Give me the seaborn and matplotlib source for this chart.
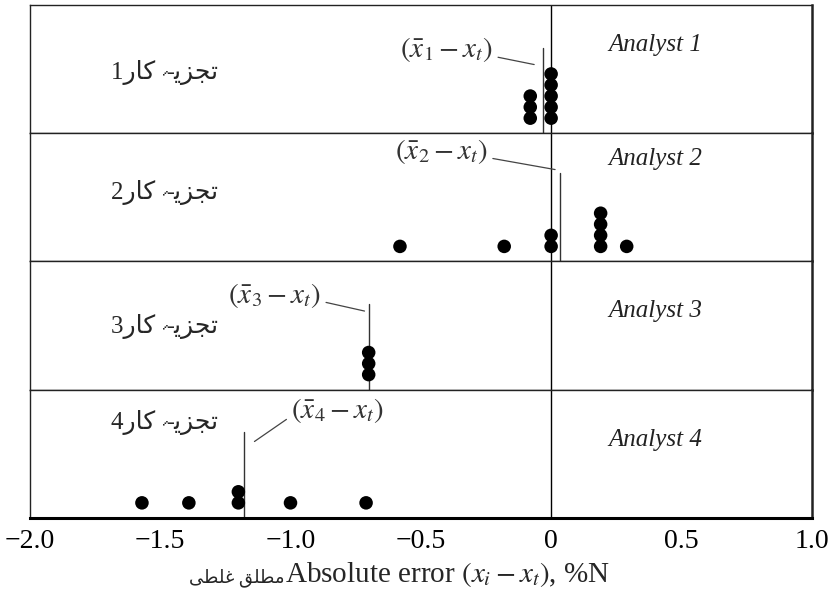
import re
import numpy as np
import pandas as pd
import matplotlib
matplotlib.use("Agg")
import matplotlib.pyplot as plt
from matplotlib import font_manager, ft2font
import seaborn as sns

# --- Data ---
analyst_names = ["Analyst 1", "Analyst 2", "Analyst 3", "Analyst 4"]
urdu_labels   = ["تجزیہ کار1", "تجزیہ کار2", "تجزیہ کار3", "تجزیہ کار4"]
mean_labels   = [r"$(\bar{x}_1 - x_t)$", r"$(\bar{x}_2 - x_t)$",
                 r"$(\bar{x}_3 - x_t)$", r"$(\bar{x}_4 - x_t)$"]
errors_1 = [-0.08, -0.08, -0.08, 0.0, 0.0, 0.0, 0.0, 0.0]
errors_2 = [-0.58, -0.18, 0.0, 0.0, 0.19, 0.19, 0.19, 0.19, 0.29]
errors_3 = [-0.70, -0.70, -0.70]
errors_4 = [-1.57, -1.39, -1.20, -1.20, -1.00, -0.71]
xticks      = [-2.0, -1.5, -1.0, -0.5, 0.0, 0.5, 1.0]
xticklabels = ["\u22122.0", "\u22121.5", "\u22121.0", "\u22120.5", "0", "0.5", "1.0"]
urdu_xlabel = "مطلق غلطی"
xlabel      = r"Absolute error $(x_i - x_t)$, %N"


# --- which installed family has a glyph? ---
def family_with(cp):
    for f in font_manager.fontManager.ttflist:
        try:
            if cp in ft2font.FT2Font(f.fname).get_charmap():
                return f.name
        except Exception:
            pass
    return None


# --- Minimal Arabic-script shaping (matplotlib has no bidi/shaping) ---
# forms: isolated, final, initial, medial; None -> letter does not join forward
FORMS = {
    "ت": ("\uFE95", "\uFE96", "\uFE97", "\uFE98"),
    "ج": ("\uFE9D", "\uFE9E", "\uFE9F", "\uFEA0"),
    "ز": ("\uFEAF", "\uFEB0", None, None),
    "ی": ("\uFBFC", "\uFBFD", "\uFBFE", "\uFBFF"),
    "ہ": ("\uFBA6", "\uFBA7", "\uFBA8", "\uFBA9"),
    "ک": ("\uFB8E", "\uFB8F", "\uFB90", "\uFB91"),
    "ا": ("\uFE8D", "\uFE8E", None, None),
    "ر": ("\uFEAD", "\uFEAE", None, None),
    "م": ("\uFEE1", "\uFEE2", "\uFEE3", "\uFEE4"),
    "ط": ("\uFEC1", "\uFEC2", "\uFEC3", "\uFEC4"),
    "ل": ("\uFEDD", "\uFEDE", "\uFEDF", "\uFEE0"),
    "ق": ("\uFED5", "\uFED6", "\uFED7", "\uFED8"),
    "غ": ("\uFECD", "\uFECE", "\uFECF", "\uFED0"),
}
extra_family = family_with(0xFBA7)
if extra_family is None:
    # no installed font carries heh goal: use the Arabic heh forms instead
    FORMS["ہ"] = ("\uFEE9", "\uFEEA", "\uFEEB", "\uFEEC")


def shape(word):
    out = []
    for i, ch in enumerate(word):
        if ch not in FORMS:
            out.append(ch)
            continue
        prev = word[i - 1] if i > 0 else ""
        nxt = word[i + 1] if i + 1 < len(word) else ""
        j_prev = prev in FORMS and FORMS[prev][2] is not None
        j_next = nxt in FORMS and FORMS[ch][2] is not None
        iso, fin, ini, med = FORMS[ch]
        if j_prev and j_next:
            out.append(med)
        elif j_prev:
            out.append(fin)
        elif j_next:
            out.append(ini)
        else:
            out.append(iso)
    return "".join(out)


def rtl(s):
    runs = re.findall(r"\d+|\D+", s)
    runs = [r if r.isdigit() else shape(r)[::-1] for r in runs]
    return "".join(runs[::-1])


# --- Style ---
sns.set_style("white")
plt.rcParams["font.family"] = ["Liberation Serif", "DejaVu Sans"]
plt.rcParams["mathtext.fontset"] = "stix"
urdu_font = ["Liberation Serif", "DejaVu Sans"] + ([extra_family] if extra_family else [])

series = [errors_1, errors_2, errors_3, errors_4]

# label / leader layout per panel (data coords: x in %N, y in stack units)
label_xy  = [(-0.40, 7.6), (-0.42, 9.9), (-1.06, 8.5), (-0.82, 9.7)]
lead_end  = [(-0.035, 6.2), (-0.017, 8.3), (-0.016, 7.1), (0.04, 6.9)]
lead_rel  = [(1.0, 0.25), (1.0, 0.3), (1.0, 0.3), (0.0, 0.3)]
line_top  = [7.7, 8.0, 7.7, 7.8]
name_y    = [0.69, 0.80, 0.61, 0.61]
urdu_y    = [0.47, 0.54, 0.49, 0.74]

fig, axes = plt.subplots(4, 1, figsize=(8.3, 6.07), dpi=100, sharex=True)
fig.subplots_adjust(left=0.036, right=0.978, top=0.992, bottom=0.147, hspace=0)

for i, ax in enumerate(axes):
    df = pd.DataFrame({"error": series[i]})
    df["level"] = df.groupby("error").cumcount() + 1.35
    mean = df["error"].mean()

    ax.axvline(0, color="black", lw=1.0, zorder=1)
    sns.scatterplot(data=df, x="error", y="level", ax=ax, s=95,
                    color="black", edgecolor="none", zorder=3, legend=False)

    # mean line and leader
    ax.plot([mean, mean], [0, line_top[i]], color="#333333", lw=1.0, zorder=2)
    ax.annotate(mean_labels[i], xy=(mean + lead_end[i][0], lead_end[i][1]),
                xytext=label_xy[i], textcoords="data", ha="center", va="center",
                fontsize=21, color="#333333",
                arrowprops=dict(arrowstyle="-", color="#444444", lw=0.9,
                                shrinkA=1, shrinkB=0, relpos=lead_rel[i]))

    ax.text(0.80, name_y[i], analyst_names[i], transform=ax.transAxes,
            ha="center", va="center", fontsize=18, style="italic",
            color="#222222")
    ax.text(0.172, urdu_y[i], rtl(urdu_labels[i]), transform=ax.transAxes,
            ha="center", va="center", fontsize=18, family=urdu_font)

    ax.set_xlim(-2.0, 1.0)
    ax.set_ylim(0, 11.6)
    ax.set_yticks([])
    ax.set_ylabel("")
    ax.set_xlabel("")
    for side in ["top", "bottom", "left", "right"]:
        ax.spines[side].set_color("#222222")
        ax.spines[side].set_linewidth(1.0)
    ax.spines["right"].set_linewidth(1.8)
    ax.tick_params(axis="x", length=0)

bottom = axes[-1]
bottom.spines["bottom"].set_linewidth(2.2)
bottom.spines["bottom"].set_color("black")
bottom.set_xticks(xticks)
bottom.set_xticklabels(xticklabels)
bottom.tick_params(axis="x", direction="in", length=13, width=1.0,
                   pad=8, labelsize=20, colors="black")

bottom.set_xlabel(xlabel, fontsize=21, ha="left", va="center")
bottom.xaxis.set_label_coords(0.326, -0.445)
bottom.text(0.326, -0.47, rtl(urdu_xlabel), transform=bottom.transAxes,
            ha="right", va="center", fontsize=13, family=urdu_font)

plt.savefig("out.png", dpi=100)
